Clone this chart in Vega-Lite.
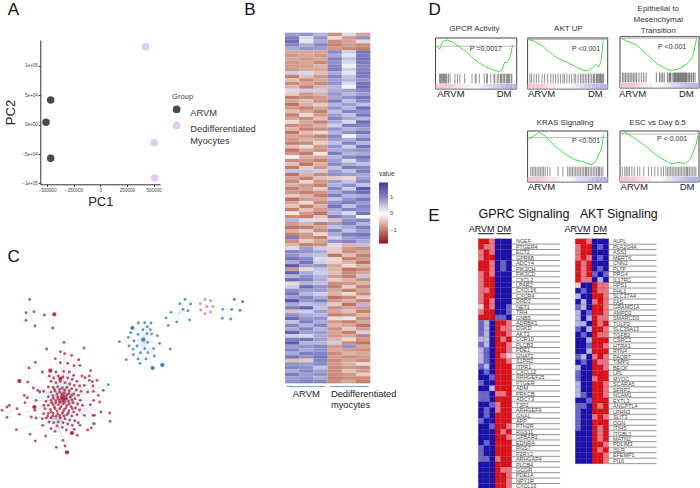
{"$schema":"https://vega.github.io/schema/vega-lite/v6.json","padding":0,"spacing":0,"background":"white","config":{"view":{"stroke":null},"axis":{"domain":false,"ticks":false,"labels":false,"grid":false,"minExtent":0,"maxExtent":0},"font":"Liberation Sans","text":{"font":"Liberation Sans"}},
"datasets":{
"pca":[{"PC1":-465000,"PC2":42000,"Group":"ARVM"},{"PC1":-509000,"PC2":4000,"Group":"ARVM"},{"PC1":-465000,"PC2":-57000,"Group":"ARVM"},{"PC1":425600,"PC2":132600,"Group":"Dedifferentiated Myocytes"},{"PC1":506000,"PC2":-30600,"Group":"Dedifferentiated Myocytes"},{"PC1":510000,"PC2":-90600,"Group":"Dedifferentiated Myocytes"}],
"hubs":[{"h":"a","hx":187,"hy":500,"g":"r"},{"h":"i","hx":165,"hy":560,"g":"r"},{"h":"b","hx":427,"hy":323,"g":"b"},{"h":"c","hx":535,"hy":243,"g":"b"},{"h":"d","hx":617,"hy":222,"g":"p"},{"h":"e","hx":692,"hy":232,"g":"b"},{"h":"f","hx":705,"hy":220,"g":"r"},{"h":"j","hx":85,"hy":245,"g":"r"},{"h":"k","hx":160,"hy":247,"g":"r"},{"h":"m","hx":30,"hy":540,"g":"r"},{"h":"n","hx":187,"hy":500,"g":"b"}],
"big":[{"x":187,"y":500,"g":"r"},{"x":427,"y":323,"g":"b"},{"x":160,"y":247,"g":"r"},{"x":198,"y":661,"g":"r"},{"x":213,"y":603,"g":"r"},{"x":55,"y":447,"g":"r"},{"x":394,"y":288,"g":"b"},{"x":455,"y":408,"g":"b"},{"x":484,"y":399,"g":"b"},{"x":100,"y":525,"g":"r"},{"x":178,"y":440,"g":"r"},{"x":148,"y":416,"g":"r"}],
"net":[{"x":355,"y":329,"h":"b"},{"x":376,"y":383,"h":"b"},{"x":384,"y":342,"h":"b"},{"x":382,"y":316,"h":"b"},{"x":389,"y":302,"h":"b"},{"x":394,"y":288,"h":"b"},{"x":412,"y":273,"h":"b"},{"x":431,"y":272,"h":"b"},{"x":450,"y":273,"h":"b"},{"x":439,"y":284,"h":"b"},{"x":426,"y":293,"h":"b"},{"x":411,"y":307,"h":"b"},{"x":438,"y":305,"h":"b"},{"x":452,"y":306,"h":"b"},{"x":469,"y":311,"h":"b"},{"x":399,"y":327,"h":"b"},{"x":396,"y":352,"h":"b"},{"x":408,"y":342,"h":"b"},{"x":418,"y":362,"h":"b"},{"x":397,"y":368,"h":"b"},{"x":411,"y":381,"h":"b"},{"x":417,"y":394,"h":"b"},{"x":435,"y":381,"h":"b"},{"x":441,"y":362,"h":"b"},{"x":431,"y":350,"h":"b"},{"x":440,"y":331,"h":"b"},{"x":458,"y":350,"h":"b"},{"x":460,"y":372,"h":"b"},{"x":455,"y":408,"h":"b"},{"x":484,"y":399,"h":"b"},{"x":476,"y":334,"h":"b"},{"x":508,"y":351,"h":"b"},{"x":448,"y":293,"h":"b"},
{"x":510,"y":241,"h":"c"},{"x":495,"y":258,"h":"c"},{"x":502,"y":280,"h":"c"},{"x":527,"y":270,"h":"c"},{"x":537,"y":215,"h":"c"},{"x":552,"y":202,"h":"c"},{"x":569,"y":216,"h":"c"},{"x":561,"y":236,"h":"c"},{"x":566,"y":264,"h":"c"},{"x":546,"y":232,"h":"c"},
{"x":598,"y":215,"h":"d"},{"x":612,"y":202,"h":"d"},{"x":629,"y":206,"h":"d"},{"x":636,"y":224,"h":"d"},{"x":629,"y":240,"h":"d"},{"x":612,"y":245,"h":"d"},{"x":599,"y":234,"h":"d"},{"x":617,"y":224,"h":"d"},
{"x":665,"y":232,"h":"e"},{"x":664,"y":259,"h":"e"},{"x":689,"y":261,"h":"e"},{"x":692,"y":232,"h":"e"},{"x":700,"y":202,"h":"f"},{"x":725,"y":209,"h":"f"},{"x":717,"y":235,"h":"f"},
{"x":86,"y":202,"h":"j"},{"x":75,"y":242,"h":"j"},{"x":99,"y":239,"h":"j"},{"x":75,"y":265,"h":"j"},{"x":102,"y":282,"h":"j"},{"x":130,"y":249,"h":"k"},{"x":155,"y":288,"h":"k"},{"x":189,"y":331,"h":"a"},
{"x":137,"y":351,"h":"a"},{"x":178,"y":359,"h":"a"},{"x":249,"y":348,"h":"a"},{"x":191,"y":365,"h":"a"},{"x":163,"y":380,"h":"a"},{"x":212,"y":370,"h":"a"},{"x":103,"y":391,"h":"a"},{"x":178,"y":392,"h":"a"},{"x":200,"y":394,"h":"a"},{"x":233,"y":383,"h":"a"},{"x":219,"y":401,"h":"a"},{"x":237,"y":400,"h":"a"},{"x":84,"y":408,"h":"a"},{"x":148,"y":416,"h":"a"},{"x":124,"y":420,"h":"a"},{"x":165,"y":420,"h":"a"},{"x":188,"y":418,"h":"a"},{"x":205,"y":420,"h":"a"},{"x":218,"y":430,"h":"a"},{"x":269,"y":416,"h":"a"},{"x":265,"y":432,"h":"a"},{"x":243,"y":432,"h":"a"},{"x":252,"y":437,"h":"a"},{"x":55,"y":447,"h":"a"},{"x":97,"y":468,"h":"a"},{"x":80,"y":450,"h":"a"},{"x":288,"y":445,"h":"a"},{"x":274,"y":449,"h":"a"},{"x":265,"y":445,"h":"a"},{"x":276,"y":462,"h":"a"},{"x":250,"y":460,"h":"a"},{"x":110,"y":475,"h":"a"},{"x":116,"y":480,"h":"a"},{"x":128,"y":478,"h":"a"},{"x":260,"y":480,"h":"a"},{"x":292,"y":490,"h":"a"},{"x":277,"y":478,"h":"a"},{"x":307,"y":475,"h":"a"},{"x":70,"y":490,"h":"a"},{"x":79,"y":497,"h":"a"},{"x":100,"y":525,"h":"a"},{"x":72,"y":512,"h":"a"},{"x":105,"y":505,"h":"a"},{"x":128,"y":520,"h":"a"},{"x":102,"y":535,"h":"a"},{"x":296,"y":510,"h":"a"},{"x":278,"y":505,"h":"a"},{"x":268,"y":518,"h":"a"},{"x":55,"y":547,"h":"a"},{"x":326,"y":543,"h":"a"},{"x":327,"y":568,"h":"a"},{"x":300,"y":540,"h":"a"},{"x":280,"y":550,"h":"a"},{"x":250,"y":550,"h":"a"},{"x":105,"y":558,"h":"i"},{"x":91,"y":555,"h":"i"},{"x":124,"y":560,"h":"i"},{"x":125,"y":580,"h":"i"},{"x":46,"y":593,"h":"i"},{"x":87,"y":607,"h":"i"},{"x":103,"y":627,"h":"i"},{"x":134,"y":612,"h":"i"},{"x":150,"y":590,"h":"i"},{"x":166,"y":646,"h":"i"},{"x":192,"y":642,"h":"i"},{"x":198,"y":661,"h":"i"},{"x":186,"y":625,"h":"i"},{"x":212,"y":603,"h":"i"},{"x":229,"y":610,"h":"i"},{"x":220,"y":592,"h":"i"},{"x":260,"y":594,"h":"a"},{"x":271,"y":588,"h":"a"},{"x":237,"y":580,"h":"i"},{"x":280,"y":575,"h":"a"},{"x":276,"y":550,"h":"a"},{"x":18,"y":525,"h":"m"},{"x":3,"y":535,"h":"m"},{"x":25,"y":520,"h":"m"},{"x":18,"y":556,"h":"m"},{"x":48,"y":530,"h":"m"},{"x":322,"y":458,"h":"n"},{"x":277,"y":575,"h":"n"},
{"x":145,"y":432,"h":"a"},{"x":158,"y":438,"h":"a"},{"x":172,"y":432,"h":"a"},{"x":186,"y":435,"h":"a"},{"x":200,"y":438,"h":"a"},{"x":214,"y":442,"h":"a"},{"x":228,"y":448,"h":"a"},{"x":150,"y":448,"h":"a"},{"x":165,"y":452,"h":"a"},{"x":178,"y":448,"h":"a"},{"x":192,"y":452,"h":"a"},{"x":206,"y":456,"h":"a"},{"x":220,"y":460,"h":"a"},{"x":236,"y":462,"h":"a"},{"x":142,"y":465,"h":"a"},{"x":156,"y":466,"h":"a"},{"x":170,"y":464,"h":"a"},{"x":184,"y":468,"h":"a"},{"x":198,"y":466,"h":"a"},{"x":212,"y":470,"h":"a"},{"x":226,"y":474,"h":"a"},{"x":240,"y":478,"h":"a"},{"x":150,"y":480,"h":"a"},{"x":162,"y":478,"h":"a"},{"x":176,"y":480,"h":"a"},{"x":190,"y":482,"h":"a"},{"x":204,"y":484,"h":"a"},{"x":218,"y":486,"h":"a"},{"x":232,"y":490,"h":"a"},{"x":142,"y":494,"h":"a"},{"x":156,"y":492,"h":"a"},{"x":170,"y":494,"h":"a"},{"x":182,"y":492,"h":"a"},{"x":194,"y":494,"h":"a"},{"x":208,"y":496,"h":"a"},{"x":222,"y":500,"h":"a"},{"x":238,"y":505,"h":"a"},{"x":135,"y":508,"h":"a"},{"x":150,"y":505,"h":"a"},{"x":164,"y":506,"h":"a"},{"x":178,"y":504,"h":"a"},{"x":190,"y":506,"h":"a"},{"x":202,"y":508,"h":"a"},{"x":216,"y":512,"h":"a"},{"x":230,"y":516,"h":"a"},{"x":245,"y":520,"h":"a"},{"x":142,"y":520,"h":"a"},{"x":156,"y":518,"h":"a"},{"x":172,"y":518,"h":"a"},{"x":186,"y":516,"h":"a"},{"x":198,"y":520,"h":"a"},{"x":210,"y":524,"h":"a"},{"x":224,"y":528,"h":"a"},{"x":236,"y":534,"h":"a"},{"x":132,"y":530,"h":"i"},{"x":148,"y":532,"h":"i"},{"x":162,"y":530,"h":"i"},{"x":176,"y":530,"h":"i"},{"x":190,"y":532,"h":"i"},{"x":204,"y":536,"h":"i"},{"x":218,"y":540,"h":"i"},{"x":128,"y":545,"h":"i"},{"x":142,"y":544,"h":"i"},{"x":156,"y":544,"h":"i"},{"x":170,"y":546,"h":"i"},{"x":184,"y":544,"h":"i"},{"x":198,"y":548,"h":"i"},{"x":212,"y":552,"h":"i"},{"x":228,"y":548,"h":"i"},{"x":136,"y":558,"h":"i"},{"x":150,"y":558,"h":"i"},{"x":178,"y":558,"h":"i"},{"x":192,"y":560,"h":"i"},{"x":206,"y":564,"h":"i"},{"x":222,"y":566,"h":"i"},{"x":144,"y":570,"h":"i"},{"x":158,"y":572,"h":"i"},{"x":172,"y":570,"h":"i"},{"x":186,"y":572,"h":"i"},{"x":200,"y":576,"h":"i"},{"x":232,"y":572,"h":"i"},{"x":168,"y":582,"h":"i"},{"x":184,"y":586,"h":"i"},{"x":214,"y":580,"h":"i"},{"x":162,"y":598,"h":"i"},{"x":196,"y":594,"h":"i"},
{"x":160,"y":472,"h":"a"},{"x":168,"y":486,"h":"a"},{"x":176,"y":472,"h":"a"},{"x":183,"y":486,"h":"a"},{"x":191,"y":474,"h":"a"},{"x":198,"y":488,"h":"a"},{"x":205,"y":476,"h":"a"},{"x":212,"y":490,"h":"a"},{"x":157,"y":499,"h":"a"},{"x":164,"y":513,"h":"a"},{"x":171,"y":500,"h":"a"},{"x":178,"y":511,"h":"a"},{"x":184,"y":498,"h":"a"},{"x":191,"y":512,"h":"a"},{"x":197,"y":501,"h":"a"},{"x":205,"y":515,"h":"a"},{"x":213,"y":504,"h":"a"},{"x":152,"y":512,"h":"a"},{"x":160,"y":525,"h":"a"},{"x":168,"y":537,"h":"i"},{"x":180,"y":524,"h":"a"},{"x":187,"y":538,"h":"i"},{"x":195,"y":527,"h":"a"},{"x":202,"y":543,"h":"i"},{"x":214,"y":530,"h":"a"},{"x":150,"y":539,"h":"i"},{"x":155,"y":552,"h":"i"},{"x":165,"y":553,"h":"i"},{"x":176,"y":551,"h":"i"},{"x":189,"y":552,"h":"i"},{"x":140,"y":552,"h":"i"},{"x":186,"y":508,"h":"a"},{"x":181,"y":497,"h":"a"},{"x":192,"y":500,"h":"a"},{"x":188,"y":490,"h":"a"},{"x":175,"y":510,"h":"a"}],
"heat":[
{"r":1,"c":1,"v":0.8},{"r":1,"c":2,"v":0.9},{"r":1,"c":3,"v":0.6},{"r":1,"c":4,"v":-0.9},{"r":1,"c":5,"v":0.3},{"r":1,"c":6,"v":-0.7},
{"r":2,"c":1,"v":1.1},{"r":2,"c":2,"v":0.3},{"r":2,"c":3,"v":0.9},{"r":2,"c":4,"v":-0.3},{"r":2,"c":5,"v":-0.8},{"r":2,"c":6,"v":0.9},
{"r":3,"c":1,"v":1.3},{"r":3,"c":2,"v":0.2},{"r":3,"c":3,"v":0.7},{"r":3,"c":4,"v":-0.9},{"r":3,"c":5,"v":-0.7},{"r":3,"c":6,"v":-0.3},
{"r":4,"c":1,"v":1.0},{"r":4,"c":2,"v":0.7},{"r":4,"c":3,"v":1.0},{"r":4,"c":4,"v":-1.0},{"r":4,"c":5,"v":-0.8},{"r":4,"c":6,"v":-0.9},
{"r":5,"c":1,"v":0.7},{"r":5,"c":2,"v":0.9},{"r":5,"c":3,"v":0.8},{"r":5,"c":4,"v":-0.8},{"r":5,"c":5,"v":-0.9},{"r":5,"c":6,"v":-1.0},
{"r":6,"c":1,"v":-0.7},{"r":6,"c":2,"v":-0.7},{"r":6,"c":3,"v":-0.7},{"r":6,"c":4,"v":1.0},{"r":6,"c":5,"v":0.4},{"r":6,"c":6,"v":1.2},
{"r":7,"c":1,"v":-0.8},{"r":7,"c":2,"v":-0.7},{"r":7,"c":3,"v":-0.8},{"r":7,"c":4,"v":0.7},{"r":7,"c":5,"v":0.2},{"r":7,"c":6,"v":1.1},
{"r":8,"c":1,"v":-0.7},{"r":8,"c":2,"v":-0.8},{"r":8,"c":3,"v":-0.7},{"r":8,"c":4,"v":1.1},{"r":8,"c":5,"v":0.5},{"r":8,"c":6,"v":1.2},
{"r":9,"c":1,"v":-0.8},{"r":9,"c":2,"v":-0.7},{"r":9,"c":3,"v":-0.9},{"r":9,"c":4,"v":0.9},{"r":9,"c":5,"v":0.3},{"r":9,"c":6,"v":1.1},
{"r":10,"c":1,"v":-0.8},{"r":10,"c":2,"v":-0.8},{"r":10,"c":3,"v":-0.6},{"r":10,"c":4,"v":1.0},{"r":10,"c":5,"v":0.1},{"r":10,"c":6,"v":1.0},
{"r":11,"c":1,"v":-0.8},{"r":11,"c":2,"v":-0.7},{"r":11,"c":3,"v":-0.7},{"r":11,"c":4,"v":1.1},{"r":11,"c":5,"v":0.4},{"r":11,"c":6,"v":1.0},
{"r":12,"c":1,"v":0.4},{"r":12,"c":2,"v":0.3},{"r":12,"c":3,"v":-0.5},{"r":12,"c":4,"v":0.7},{"r":12,"c":5,"v":0.2},{"r":12,"c":6,"v":1.2},
{"r":13,"c":1,"v":-1.0},{"r":13,"c":2,"v":-0.5},{"r":13,"c":3,"v":-0.8},{"r":13,"c":4,"v":1.0},{"r":13,"c":5,"v":0.5},{"r":13,"c":6,"v":1.1},
{"r":14,"c":1,"v":-0.5},{"r":14,"c":2,"v":-0.9},{"r":14,"c":3,"v":-0.7},{"r":14,"c":4,"v":0.8},{"r":14,"c":5,"v":0.6},{"r":14,"c":6,"v":0.9},
{"r":15,"c":1,"v":-0.9},{"r":15,"c":2,"v":-0.7},{"r":15,"c":3,"v":-0.9},{"r":15,"c":4,"v":0.9},{"r":15,"c":5,"v":0.3},{"r":15,"c":6,"v":1.2},
{"r":16,"c":1,"v":-0.6},{"r":16,"c":2,"v":-1.0},{"r":16,"c":3,"v":-0.6},{"r":16,"c":4,"v":0.6},{"r":16,"c":5,"v":0.1},{"r":16,"c":6,"v":1.3},
{"r":17,"c":1,"v":0.3},{"r":17,"c":2,"v":0.4},{"r":17,"c":3,"v":0.4},{"r":17,"c":4,"v":0.7},{"r":17,"c":5,"v":0.8},{"r":17,"c":6,"v":1.0},
{"r":18,"c":1,"v":-0.4},{"r":18,"c":2,"v":-0.8},{"r":18,"c":3,"v":-0.6},{"r":18,"c":4,"v":0.9},{"r":18,"c":5,"v":0.6},{"r":18,"c":6,"v":0.8},
{"r":19,"c":1,"v":-1.0},{"r":19,"c":2,"v":-0.9},{"r":19,"c":3,"v":-0.8},{"r":19,"c":4,"v":0.7},{"r":19,"c":5,"v":0.9},{"r":19,"c":6,"v":1.2},
{"r":20,"c":1,"v":-0.7},{"r":20,"c":2,"v":-0.5},{"r":20,"c":3,"v":-0.9},{"r":20,"c":4,"v":1.1},{"r":20,"c":5,"v":0.5},{"r":20,"c":6,"v":1.0},
{"r":21,"c":1,"v":-1.1},{"r":21,"c":2,"v":-0.6},{"r":21,"c":3,"v":-0.4},{"r":21,"c":4,"v":0.6},{"r":21,"c":5,"v":0.8},{"r":21,"c":6,"v":0.5},
{"r":22,"c":1,"v":-0.8},{"r":22,"c":2,"v":-1.0},{"r":22,"c":3,"v":-0.7},{"r":22,"c":4,"v":0.9},{"r":22,"c":5,"v":0.6},{"r":22,"c":6,"v":1.3},
{"r":23,"c":1,"v":-0.5},{"r":23,"c":2,"v":-0.7},{"r":23,"c":3,"v":-1.0},{"r":23,"c":4,"v":0.5},{"r":23,"c":5,"v":1.0},{"r":23,"c":6,"v":0.9},
{"r":24,"c":1,"v":-1.0},{"r":24,"c":2,"v":-0.3},{"r":24,"c":3,"v":-0.8},{"r":24,"c":4,"v":0.8},{"r":24,"c":5,"v":0.5},{"r":24,"c":6,"v":1.2},
{"r":25,"c":1,"v":-0.7},{"r":25,"c":2,"v":-0.9},{"r":25,"c":3,"v":-0.5},{"r":25,"c":4,"v":1.0},{"r":25,"c":5,"v":0.7},{"r":25,"c":6,"v":0.6},
{"r":26,"c":1,"v":-0.3},{"r":26,"c":2,"v":-0.7},{"r":26,"c":3,"v":-1.0},{"r":26,"c":4,"v":0.7},{"r":26,"c":5,"v":0.3},{"r":26,"c":6,"v":1.3},
{"r":27,"c":1,"v":-0.9},{"r":27,"c":2,"v":-0.8},{"r":27,"c":3,"v":-0.6},{"r":27,"c":4,"v":0.4},{"r":27,"c":5,"v":1.1},{"r":27,"c":6,"v":1.0},
{"r":28,"c":1,"v":-0.6},{"r":28,"c":2,"v":-1.0},{"r":28,"c":3,"v":-0.9},{"r":28,"c":4,"v":0.9},{"r":28,"c":5,"v":0.6},{"r":28,"c":6,"v":0.8},
{"r":29,"c":1,"v":-1.1},{"r":29,"c":2,"v":-0.5},{"r":29,"c":3,"v":-0.3},{"r":29,"c":4,"v":0.6},{"r":29,"c":5,"v":0.9},{"r":29,"c":6,"v":1.2},
{"r":30,"c":1,"v":-0.7},{"r":30,"c":2,"v":-0.8},{"r":30,"c":3,"v":-1.0},{"r":30,"c":4,"v":1.0},{"r":30,"c":5,"v":0.1},{"r":30,"c":6,"v":0.7},
{"r":31,"c":1,"v":-0.8},{"r":31,"c":2,"v":-0.6},{"r":31,"c":3,"v":-0.7},{"r":31,"c":4,"v":0.8},{"r":31,"c":5,"v":0.7},{"r":31,"c":6,"v":1.1},
{"r":32,"c":1,"v":-1.0},{"r":32,"c":2,"v":-0.9},{"r":32,"c":3,"v":-0.4},{"r":32,"c":4,"v":0.5},{"r":32,"c":5,"v":1.0},{"r":32,"c":6,"v":0.6},
{"r":33,"c":1,"v":-0.5},{"r":33,"c":2,"v":-0.3},{"r":33,"c":3,"v":-0.8},{"r":33,"c":4,"v":0.9},{"r":33,"c":5,"v":0.4},{"r":33,"c":6,"v":1.2},
{"r":34,"c":1,"v":-1.1},{"r":34,"c":2,"v":-0.7},{"r":34,"c":3,"v":-0.9},{"r":34,"c":4,"v":0.7},{"r":34,"c":5,"v":0.8},{"r":34,"c":6,"v":0.9},
{"r":35,"c":1,"v":-0.8},{"r":35,"c":2,"v":-1.0},{"r":35,"c":3,"v":-0.2},{"r":35,"c":4,"v":1.1},{"r":35,"c":5,"v":0.6},{"r":35,"c":6,"v":0.7},
{"r":36,"c":1,"v":0.1},{"r":36,"c":2,"v":-0.6},{"r":36,"c":3,"v":-0.7},{"r":36,"c":4,"v":0.6},{"r":36,"c":5,"v":1.0},{"r":36,"c":6,"v":1.2},
{"r":37,"c":1,"v":-0.9},{"r":37,"c":2,"v":-0.8},{"r":37,"c":3,"v":-1.0},{"r":37,"c":4,"v":0.8},{"r":37,"c":5,"v":0.3},{"r":37,"c":6,"v":0.9},
{"r":38,"c":1,"v":-0.5},{"r":38,"c":2,"v":-1.1},{"r":38,"c":3,"v":-0.6},{"r":38,"c":4,"v":1.0},{"r":38,"c":5,"v":0.7},{"r":38,"c":6,"v":0.5},
{"r":39,"c":1,"v":-1.0},{"r":39,"c":2,"v":-0.4},{"r":39,"c":3,"v":-0.8},{"r":39,"c":4,"v":0.5},{"r":39,"c":5,"v":1.1},{"r":39,"c":6,"v":1.0},
{"r":40,"c":1,"v":0.5},{"r":40,"c":2,"v":0.5},{"r":40,"c":3,"v":0.4},{"r":40,"c":4,"v":0.8},{"r":40,"c":5,"v":0.5},{"r":40,"c":6,"v":1.1},
{"r":41,"c":1,"v":-1.1},{"r":41,"c":2,"v":-0.6},{"r":41,"c":3,"v":-0.9},{"r":41,"c":4,"v":0.9},{"r":41,"c":5,"v":0.8},{"r":41,"c":6,"v":0.7},
{"r":42,"c":1,"v":-0.7},{"r":42,"c":2,"v":-1.0},{"r":42,"c":3,"v":-0.5},{"r":42,"c":4,"v":-0.4},{"r":42,"c":5,"v":-0.3},{"r":42,"c":6,"v":0.8},
{"r":43,"c":1,"v":-0.9},{"r":43,"c":2,"v":-0.3},{"r":43,"c":3,"v":-0.8},{"r":43,"c":4,"v":0.8},{"r":43,"c":5,"v":0.5},{"r":43,"c":6,"v":1.0},
{"r":44,"c":1,"v":-0.6},{"r":44,"c":2,"v":-0.8},{"r":44,"c":3,"v":-1.0},{"r":44,"c":4,"v":0.6},{"r":44,"c":5,"v":0.9},{"r":44,"c":6,"v":0.5},
{"r":45,"c":1,"v":-1.0},{"r":45,"c":2,"v":-0.7},{"r":45,"c":3,"v":-0.4},{"r":45,"c":4,"v":1.0},{"r":45,"c":5,"v":0.4},{"r":45,"c":6,"v":1.5},
{"r":46,"c":1,"v":-0.8},{"r":46,"c":2,"v":-1.0},{"r":46,"c":3,"v":-0.8},{"r":46,"c":4,"v":0.7},{"r":46,"c":5,"v":1.0},{"r":46,"c":6,"v":1.3},
{"r":47,"c":1,"v":-0.4},{"r":47,"c":2,"v":-0.6},{"r":47,"c":3,"v":-1.0},{"r":47,"c":4,"v":1.1},{"r":47,"c":5,"v":0.6},{"r":47,"c":6,"v":0.7},
{"r":48,"c":1,"v":-1.1},{"r":48,"c":2,"v":-0.8},{"r":48,"c":3,"v":-0.7},{"r":48,"c":4,"v":0.5},{"r":48,"c":5,"v":0.9},{"r":48,"c":6,"v":1.2},
{"r":49,"c":1,"v":-0.7},{"r":49,"c":2,"v":-0.3},{"r":49,"c":3,"v":-0.9},{"r":49,"c":4,"v":0.9},{"r":49,"c":5,"v":1.1},{"r":49,"c":6,"v":0.8},
{"r":50,"c":1,"v":-0.5},{"r":50,"c":2,"v":-1.0},{"r":50,"c":3,"v":-0.6},{"r":50,"c":4,"v":1.2},{"r":50,"c":5,"v":0.5},{"r":50,"c":6,"v":1.0},
{"r":51,"c":1,"v":-1.0},{"r":51,"c":2,"v":-0.5},{"r":51,"c":3,"v":-0.8},{"r":51,"c":4,"v":0.7},{"r":51,"c":5,"v":1.0},{"r":51,"c":6,"v":0.9},
{"r":52,"c":1,"v":-0.2},{"r":52,"c":2,"v":-0.8},{"r":52,"c":3,"v":-1.1},{"r":52,"c":4,"v":0.6},{"r":52,"c":5,"v":0.3},{"r":52,"c":6,"v":1.2},
{"r":53,"c":1,"v":-0.9},{"r":53,"c":2,"v":-1.0},{"r":53,"c":3,"v":-0.5},{"r":53,"c":4,"v":1.1},{"r":53,"c":5,"v":0.8},{"r":53,"c":6,"v":0.1},
{"r":54,"c":1,"v":0.6},{"r":54,"c":2,"v":0.3},{"r":54,"c":3,"v":0.3},{"r":54,"c":4,"v":-0.5},{"r":54,"c":5,"v":0.9},{"r":54,"c":6,"v":1.0},
{"r":55,"c":1,"v":-0.8},{"r":55,"c":2,"v":-0.6},{"r":55,"c":3,"v":-1.0},{"r":55,"c":4,"v":0.8},{"r":55,"c":5,"v":1.1},{"r":55,"c":6,"v":0.6},
{"r":56,"c":1,"v":-1.1},{"r":56,"c":2,"v":-1.0},{"r":56,"c":3,"v":-0.7},{"r":56,"c":4,"v":0.5},{"r":56,"c":5,"v":0.7},{"r":56,"c":6,"v":1.1},
{"r":57,"c":1,"v":-0.6},{"r":57,"c":2,"v":-0.4},{"r":57,"c":3,"v":-0.9},{"r":57,"c":4,"v":1.0},{"r":57,"c":5,"v":0.5},{"r":57,"c":6,"v":0.8},
{"r":58,"c":1,"v":-1.0},{"r":58,"c":2,"v":-0.8},{"r":58,"c":3,"v":-0.3},{"r":58,"c":4,"v":0.7},{"r":58,"c":5,"v":1.1},{"r":58,"c":6,"v":1.2},
{"r":59,"c":1,"v":1.1},{"r":59,"c":2,"v":-0.8},{"r":59,"c":3,"v":-1.0},{"r":59,"c":4,"v":0.4},{"r":59,"c":5,"v":0.8},{"r":59,"c":6,"v":0.9},
{"r":60,"c":1,"v":-0.9},{"r":60,"c":2,"v":-0.4},{"r":60,"c":3,"v":-0.7},{"r":60,"c":4,"v":0.9},{"r":60,"c":5,"v":1.0},{"r":60,"c":6,"v":0.7},
{"r":61,"c":1,"v":-0.6},{"r":61,"c":2,"v":-1.0},{"r":61,"c":3,"v":-0.9},{"r":61,"c":4,"v":0.3},{"r":61,"c":5,"v":-0.6},{"r":61,"c":6,"v":0.5},
{"r":62,"c":1,"v":0.3},{"r":62,"c":2,"v":0.8},{"r":62,"c":3,"v":0.4},{"r":62,"c":4,"v":-0.4},{"r":62,"c":5,"v":-0.8},{"r":62,"c":6,"v":-0.9},
{"r":63,"c":1,"v":1.0},{"r":63,"c":2,"v":0.9},{"r":63,"c":3,"v":0.7},{"r":63,"c":4,"v":-0.4},{"r":63,"c":5,"v":-0.9},{"r":63,"c":6,"v":-0.7},
{"r":64,"c":1,"v":0.9},{"r":64,"c":2,"v":0.6},{"r":64,"c":3,"v":0.5},{"r":64,"c":4,"v":-1.1},{"r":64,"c":5,"v":-0.5},{"r":64,"c":6,"v":-1.0},
{"r":65,"c":1,"v":1.2},{"r":65,"c":2,"v":1.0},{"r":65,"c":3,"v":0.3},{"r":65,"c":4,"v":-0.3},{"r":65,"c":5,"v":-1.0},{"r":65,"c":6,"v":-0.8},
{"r":66,"c":1,"v":0.7},{"r":66,"c":2,"v":1.2},{"r":66,"c":3,"v":0.4},{"r":66,"c":4,"v":-0.4},{"r":66,"c":5,"v":-0.6},{"r":66,"c":6,"v":-1.1},
{"r":67,"c":1,"v":1.5},{"r":67,"c":2,"v":0.8},{"r":67,"c":3,"v":0.9},{"r":67,"c":4,"v":-0.7},{"r":67,"c":5,"v":-0.3},{"r":67,"c":6,"v":-0.6},
{"r":68,"c":1,"v":-0.8},{"r":68,"c":2,"v":-0.3},{"r":68,"c":3,"v":0.5},{"r":68,"c":4,"v":-0.6},{"r":68,"c":5,"v":-1.1},{"r":68,"c":6,"v":-0.9},
{"r":69,"c":1,"v":1.4},{"r":69,"c":2,"v":0.7},{"r":69,"c":3,"v":0.4},{"r":69,"c":4,"v":-0.5},{"r":69,"c":5,"v":-0.9},{"r":69,"c":6,"v":-0.7},
{"r":70,"c":1,"v":0.6},{"r":70,"c":2,"v":0.9},{"r":70,"c":3,"v":0.6},{"r":70,"c":4,"v":-0.8},{"r":70,"c":5,"v":-1.0},{"r":70,"c":6,"v":0.5},
{"r":71,"c":1,"v":1.3},{"r":71,"c":2,"v":1.1},{"r":71,"c":3,"v":0.7},{"r":71,"c":4,"v":-0.4},{"r":71,"c":5,"v":-0.6},{"r":71,"c":6,"v":-0.9},
{"r":72,"c":1,"v":-0.3},{"r":72,"c":2,"v":0.6},{"r":72,"c":3,"v":0.5},{"r":72,"c":4,"v":-0.9},{"r":72,"c":5,"v":-0.8},{"r":72,"c":6,"v":-0.6},
{"r":73,"c":1,"v":0.4},{"r":73,"c":2,"v":1.3},{"r":73,"c":3,"v":0.9},{"r":73,"c":4,"v":-1.0},{"r":73,"c":5,"v":-0.4},{"r":73,"c":6,"v":-1.0},
{"r":74,"c":1,"v":0.9},{"r":74,"c":2,"v":0.8},{"r":74,"c":3,"v":0.8},{"r":74,"c":4,"v":-0.7},{"r":74,"c":5,"v":-1.0},{"r":74,"c":6,"v":-0.7},
{"r":75,"c":1,"v":1.2},{"r":75,"c":2,"v":0.6},{"r":75,"c":3,"v":0.4},{"r":75,"c":4,"v":-0.6},{"r":75,"c":5,"v":-0.3},{"r":75,"c":6,"v":-0.9},
{"r":76,"c":1,"v":0.8},{"r":76,"c":2,"v":1.0},{"r":76,"c":3,"v":0.7},{"r":76,"c":4,"v":-1.1},{"r":76,"c":5,"v":-0.9},{"r":76,"c":6,"v":-0.4},
{"r":77,"c":1,"v":1.6},{"r":77,"c":2,"v":0.9},{"r":77,"c":3,"v":1.1},{"r":77,"c":4,"v":-0.8},{"r":77,"c":5,"v":-0.6},{"r":77,"c":6,"v":-1.0},
{"r":78,"c":1,"v":0.7},{"r":78,"c":2,"v":0.5},{"r":78,"c":3,"v":0.6},{"r":78,"c":4,"v":-0.4},{"r":78,"c":5,"v":-1.1},{"r":78,"c":6,"v":0.6},
{"r":79,"c":1,"v":1.1},{"r":79,"c":2,"v":1.4},{"r":79,"c":3,"v":0.5},{"r":79,"c":4,"v":-0.9},{"r":79,"c":5,"v":-0.7},{"r":79,"c":6,"v":-0.8},
{"r":80,"c":1,"v":-0.5},{"r":80,"c":2,"v":0.4},{"r":80,"c":3,"v":0.8},{"r":80,"c":4,"v":-0.7},{"r":80,"c":5,"v":-0.5},{"r":80,"c":6,"v":-1.0},
{"r":81,"c":1,"v":0.9},{"r":81,"c":2,"v":0.7},{"r":81,"c":3,"v":0.6},{"r":81,"c":4,"v":-1.0},{"r":81,"c":5,"v":-0.9},{"r":81,"c":6,"v":-0.6},
{"r":82,"c":1,"v":1.3},{"r":82,"c":2,"v":0.9},{"r":82,"c":3,"v":0.9},{"r":82,"c":4,"v":-0.3},{"r":82,"c":5,"v":0.2},{"r":82,"c":6,"v":-0.9},
{"r":83,"c":1,"v":0.5},{"r":83,"c":2,"v":1.1},{"r":83,"c":3,"v":0.7},{"r":83,"c":4,"v":-0.8},{"r":83,"c":5,"v":-1.0},{"r":83,"c":6,"v":-0.7},
{"r":84,"c":1,"v":1.0},{"r":84,"c":2,"v":0.6},{"r":84,"c":3,"v":1.0},{"r":84,"c":4,"v":-0.6},{"r":84,"c":5,"v":-0.7},{"r":84,"c":6,"v":-1.1},
{"r":85,"c":1,"v":0.7},{"r":85,"c":2,"v":1.0},{"r":85,"c":3,"v":0.6},{"r":85,"c":4,"v":-0.9},{"r":85,"c":5,"v":-0.4},{"r":85,"c":6,"v":-0.8},
{"r":86,"c":1,"v":1.4},{"r":86,"c":2,"v":0.8},{"r":86,"c":3,"v":0.8},{"r":86,"c":4,"v":-0.7},{"r":86,"c":5,"v":-1.0},{"r":86,"c":6,"v":0.4},
{"r":87,"c":1,"v":0.4},{"r":87,"c":2,"v":0.3},{"r":87,"c":3,"v":0.7},{"r":87,"c":4,"v":-0.8},{"r":87,"c":5,"v":-0.7},{"r":87,"c":6,"v":-1.0},
{"r":88,"c":1,"v":1.1},{"r":88,"c":2,"v":1.2},{"r":88,"c":3,"v":0.8},{"r":88,"c":4,"v":-0.6},{"r":88,"c":5,"v":-0.3},{"r":88,"c":6,"v":-0.8},
{"r":89,"c":1,"v":1.5},{"r":89,"c":2,"v":0.6},{"r":89,"c":3,"v":0.6},{"r":89,"c":4,"v":0.4},{"r":89,"c":5,"v":-0.9},{"r":89,"c":6,"v":-1.1},
{"r":90,"c":1,"v":0.8},{"r":90,"c":2,"v":0.9},{"r":90,"c":3,"v":1.0},{"r":90,"c":4,"v":-0.8},{"r":90,"c":5,"v":0.9},{"r":90,"c":6,"v":-0.7},
{"r":91,"c":1,"v":1.0},{"r":91,"c":2,"v":0.7},{"r":91,"c":3,"v":0.9},{"r":91,"c":4,"v":-0.7},{"r":91,"c":5,"v":-0.8},{"r":91,"c":6,"v":-0.9},
{"r":92,"c":1,"v":0.7},{"r":92,"c":2,"v":1.1},{"r":92,"c":3,"v":1.0},{"r":92,"c":4,"v":-0.9},{"r":92,"c":5,"v":-0.6},{"r":92,"c":6,"v":-0.7},
{"r":93,"c":1,"v":1.2},{"r":93,"c":2,"v":0.9},{"r":93,"c":3,"v":1.2},{"r":93,"c":4,"v":-0.8},{"r":93,"c":5,"v":-0.9},{"r":93,"c":6,"v":-0.8},
{"r":94,"c":1,"v":-0.5},{"r":94,"c":2,"v":-0.4},{"r":94,"c":3,"v":1.0},{"r":94,"c":4,"v":-0.9},{"r":94,"c":5,"v":-0.7},{"r":94,"c":6,"v":-0.9},
{"r":95,"c":1,"v":0.9},{"r":95,"c":2,"v":0.8},{"r":95,"c":3,"v":1.0},{"r":95,"c":4,"v":-0.8},{"r":95,"c":5,"v":-0.6},{"r":95,"c":6,"v":-0.3},
{"r":96,"c":1,"v":1.0},{"r":96,"c":2,"v":0.9},{"r":96,"c":3,"v":0.5},{"r":96,"c":4,"v":-0.9},{"r":96,"c":5,"v":-0.8},{"r":96,"c":6,"v":-0.9},
{"r":97,"c":1,"v":0.7},{"r":97,"c":2,"v":1.0},{"r":97,"c":3,"v":0.8},{"r":97,"c":4,"v":-0.9},{"r":97,"c":5,"v":-0.5},{"r":97,"c":6,"v":-0.8},
{"r":98,"c":1,"v":1.1},{"r":98,"c":2,"v":0.8},{"r":98,"c":3,"v":0.9},{"r":98,"c":4,"v":-0.9},{"r":98,"c":5,"v":-0.8},{"r":98,"c":6,"v":-0.4},
{"r":99,"c":1,"v":0.8},{"r":99,"c":2,"v":0.9},{"r":99,"c":3,"v":0.7},{"r":99,"c":4,"v":-1.0},{"r":99,"c":5,"v":-0.9},{"r":99,"c":6,"v":-0.9},
{"r":100,"c":1,"v":0.9},{"r":100,"c":2,"v":1.0},{"r":100,"c":3,"v":1.0},{"r":100,"c":4,"v":-0.9},{"r":100,"c":5,"v":-0.7},{"r":100,"c":6,"v":-1.0}],
"bar":[{"a":0,"b":5,"v":1},{"a":5,"b":10,"v":1},{"a":10,"b":15,"v":1},{"a":15,"b":20,"v":0.95},{"a":20,"b":25,"v":0.75},{"a":25,"b":30,"v":0.55},{"a":30,"b":35,"v":0.45},{"a":35,"b":40,"v":0.3},{"a":40,"b":45,"v":0.1},{"a":45,"b":50,"v":0},{"a":50,"b":55,"v":-0.05},{"a":55,"b":60,"v":-0.25},{"a":60,"b":65,"v":-0.4},{"a":65,"b":70,"v":-0.5},{"a":70,"b":75,"v":-0.6},{"a":75,"b":80,"v":-0.75},{"a":80,"b":85,"v":-0.85},{"a":85,"b":90,"v":-0.95},{"a":90,"b":95,"v":-1},{"a":95,"b":100,"v":-1}],
"gprcGenes":[{"r":1,"g":"NGEF"},{"r":2,"g":"PTGER4"},{"r":3,"g":"ECT2"},{"r":4,"g":"GPR68"},{"r":5,"g":"ADCY4"},{"r":6,"g":"PIK3CH"},{"r":7,"g":"PIK3CD"},{"r":8,"g":"CXCL2"},{"r":9,"g":"LPAR2"},{"r":10,"g":"CXCL16"},{"r":11,"g":"CXCR4"},{"r":12,"g":"DRD3"},{"r":13,"g":"NET1"},{"r":14,"g":"TRH"},{"r":15,"g":"GNB5"},{"r":16,"g":"ADRBK1"},{"r":17,"g":"DGKD"},{"r":18,"g":"AKT3"},{"r":19,"g":"CCR10"},{"r":20,"g":"PLCB3"},{"r":21,"g":"PDE1"},{"r":22,"g":"GNAT2"},{"r":23,"g":"S1PR2"},{"r":24,"g":"ITPR1"},{"r":25,"g":"CXCL12"},{"r":26,"g":"ARHGEF25"},{"r":27,"g":"PTGER"},{"r":28,"g":"ADM"},{"r":29,"g":"PRKCB"},{"r":30,"g":"ADCY3"},{"r":31,"g":"TJP2"},{"r":32,"g":"ARHGEF9"},{"r":33,"g":"GNAL"},{"r":34,"g":"APP"},{"r":35,"g":"PTH2R"},{"r":36,"g":"RGS11"},{"r":37,"g":"GPBAR1"},{"r":38,"g":"EDNRA"},{"r":39,"g":"RGS7"},{"r":40,"g":"P2RY2"},{"r":41,"g":"ARHGAP4"},{"r":42,"g":"PLCB4"},{"r":43,"g":"GCGR"},{"r":44,"g":"PDE1A"},{"r":45,"g":"NPY1R"},{"r":46,"g":"CXCL13"}],
"aktGenes":[{"r":1,"g":"ALPL"},{"r":2,"g":"PLA2G4A"},{"r":3,"g":"ASS1"},{"r":4,"g":"MERTK"},{"r":5,"g":"CNN2"},{"r":6,"g":"PLTP"},{"r":7,"g":"PRG4"},{"r":8,"g":"IL17RC"},{"r":9,"g":"HPS1"},{"r":10,"g":"FHL1"},{"r":11,"g":"SLC37A4"},{"r":12,"g":"FAS"},{"r":13,"g":"GRAMD1A"},{"r":14,"g":"AMPD2"},{"r":15,"g":"SMARCD3"},{"r":16,"g":"TULP3"},{"r":17,"g":"SLC39A13"},{"r":18,"g":"TGFB2"},{"r":19,"g":"CSRC2"},{"r":20,"g":"HTRA1"},{"r":21,"g":"RTN4"},{"r":22,"g":"PAQR7"},{"r":23,"g":"TIMP3"},{"r":24,"g":"BECK"},{"r":25,"g":"LPL"},{"r":26,"g":"MYOC"},{"r":27,"g":"SCARA5"},{"r":28,"g":"SFRP2"},{"r":29,"g":"NCAM1"},{"r":30,"g":"EXTL3"},{"r":31,"g":"ANGPTL4"},{"r":32,"g":"LPHN3"},{"r":33,"g":"SLIT3"},{"r":34,"g":"OGN"},{"r":35,"g":"ITIH5"},{"r":36,"g":"ITGBL1"},{"r":37,"g":"MATN2"},{"r":38,"g":"PDLIM3"},{"r":39,"g":"ISLR"},{"r":40,"g":"EFEMP1"},{"r":41,"g":"PI16"}],
"gprc":[{"r":1,"c":1,"v":3},{"r":1,"c":2,"v":3},{"r":1,"c":3,"v":2},{"r":1,"c":4,"v":-3},{"r":1,"c":5,"v":-3},{"r":1,"c":6,"v":-3},{"r":2,"c":1,"v":3},{"r":2,"c":2,"v":2},{"r":2,"c":3,"v":2},{"r":2,"c":4,"v":-3},{"r":2,"c":5,"v":-3},{"r":2,"c":6,"v":-3},{"r":3,"c":1,"v":2},{"r":3,"c":2,"v":3},{"r":3,"c":3,"v":2},{"r":3,"c":4,"v":-3},{"r":3,"c":5,"v":-3},{"r":3,"c":6,"v":-3},{"r":4,"c":1,"v":2},{"r":4,"c":2,"v":3},{"r":4,"c":3,"v":3},{"r":4,"c":4,"v":-3},{"r":4,"c":5,"v":-3},{"r":4,"c":6,"v":-3},{"r":5,"c":1,"v":3},{"r":5,"c":2,"v":3},{"r":5,"c":3,"v":2},{"r":5,"c":4,"v":-3},{"r":5,"c":5,"v":-2},{"r":5,"c":6,"v":-3},{"r":6,"c":1,"v":3},{"r":6,"c":2,"v":3},{"r":6,"c":3,"v":2},{"r":6,"c":4,"v":-3},{"r":6,"c":5,"v":-2},{"r":6,"c":6,"v":-3},{"r":7,"c":1,"v":2},{"r":7,"c":2,"v":3},{"r":7,"c":3,"v":2},{"r":7,"c":4,"v":-3},{"r":7,"c":5,"v":-3},{"r":7,"c":6,"v":-3},{"r":8,"c":1,"v":2},{"r":8,"c":2,"v":3},{"r":8,"c":3,"v":3},{"r":8,"c":4,"v":-3},{"r":8,"c":5,"v":-3},{"r":8,"c":6,"v":-3},{"r":9,"c":1,"v":2},{"r":9,"c":2,"v":3},{"r":9,"c":3,"v":3},{"r":9,"c":4,"v":-3},{"r":9,"c":5,"v":-3},{"r":9,"c":6,"v":-3},{"r":10,"c":1,"v":2},{"r":10,"c":2,"v":2},{"r":10,"c":3,"v":3},{"r":10,"c":4,"v":-3},{"r":10,"c":5,"v":-3},{"r":10,"c":6,"v":-3},{"r":11,"c":1,"v":2},{"r":11,"c":2,"v":3},{"r":11,"c":3,"v":3},{"r":11,"c":4,"v":-3},{"r":11,"c":5,"v":-3},{"r":11,"c":6,"v":-3},{"r":12,"c":1,"v":2},{"r":12,"c":2,"v":3},{"r":12,"c":3,"v":2},{"r":12,"c":4,"v":-3},{"r":12,"c":5,"v":-3},{"r":12,"c":6,"v":-3},{"r":13,"c":1,"v":1},{"r":13,"c":2,"v":3},{"r":13,"c":3,"v":2},{"r":13,"c":4,"v":-3},{"r":13,"c":5,"v":-3},{"r":13,"c":6,"v":-2},{"r":14,"c":1,"v":2},{"r":14,"c":2,"v":3},{"r":14,"c":3,"v":3},{"r":14,"c":4,"v":-3},{"r":14,"c":5,"v":-3},{"r":14,"c":6,"v":-2},{"r":15,"c":1,"v":3},{"r":15,"c":2,"v":3},{"r":15,"c":3,"v":3},{"r":15,"c":4,"v":-2},{"r":15,"c":5,"v":-2},{"r":15,"c":6,"v":-3},
{"r":16,"c":1,"v":-2},{"r":16,"c":2,"v":-1},{"r":16,"c":3,"v":-3},{"r":16,"c":4,"v":3},{"r":16,"c":5,"v":3},{"r":16,"c":6,"v":2},{"r":17,"c":1,"v":-2},{"r":17,"c":2,"v":-1},{"r":17,"c":3,"v":-3},{"r":17,"c":4,"v":3},{"r":17,"c":5,"v":2},{"r":17,"c":6,"v":2},{"r":18,"c":1,"v":-2},{"r":18,"c":2,"v":-1},{"r":18,"c":3,"v":-3},{"r":18,"c":4,"v":3},{"r":18,"c":5,"v":3},{"r":18,"c":6,"v":2},{"r":19,"c":1,"v":-1},{"r":19,"c":2,"v":-1},{"r":19,"c":3,"v":-3},{"r":19,"c":4,"v":3},{"r":19,"c":5,"v":2},{"r":19,"c":6,"v":3},{"r":20,"c":1,"v":-2},{"r":20,"c":2,"v":-1},{"r":20,"c":3,"v":-3},{"r":20,"c":4,"v":3},{"r":20,"c":5,"v":3},{"r":20,"c":6,"v":2},{"r":21,"c":1,"v":-1},{"r":21,"c":2,"v":-2},{"r":21,"c":3,"v":-3},{"r":21,"c":4,"v":3},{"r":21,"c":5,"v":3},{"r":21,"c":6,"v":2},{"r":22,"c":1,"v":-1},{"r":22,"c":2,"v":-2},{"r":22,"c":3,"v":-3},{"r":22,"c":4,"v":3},{"r":22,"c":5,"v":2},{"r":22,"c":6,"v":1},{"r":23,"c":1,"v":-1},{"r":23,"c":2,"v":-2},{"r":23,"c":3,"v":-3},{"r":23,"c":4,"v":3},{"r":23,"c":5,"v":3},{"r":23,"c":6,"v":2},{"r":24,"c":1,"v":-2},{"r":24,"c":2,"v":-1},{"r":24,"c":3,"v":-3},{"r":24,"c":4,"v":3},{"r":24,"c":5,"v":3},{"r":24,"c":6,"v":3},{"r":25,"c":1,"v":-3},{"r":25,"c":2,"v":-2},{"r":25,"c":3,"v":-3},{"r":25,"c":4,"v":3},{"r":25,"c":5,"v":3},{"r":25,"c":6,"v":3},{"r":26,"c":1,"v":-3},{"r":26,"c":2,"v":-3},{"r":26,"c":3,"v":-2},{"r":26,"c":4,"v":3},{"r":26,"c":5,"v":3},{"r":26,"c":6,"v":3},{"r":27,"c":1,"v":-2},{"r":27,"c":2,"v":-3},{"r":27,"c":3,"v":-3},{"r":27,"c":4,"v":3},{"r":27,"c":5,"v":3},{"r":27,"c":6,"v":3},{"r":28,"c":1,"v":-3},{"r":28,"c":2,"v":-3},{"r":28,"c":3,"v":-1},{"r":28,"c":4,"v":3},{"r":28,"c":5,"v":3},{"r":28,"c":6,"v":3},{"r":29,"c":1,"v":-2},{"r":29,"c":2,"v":-2},{"r":29,"c":3,"v":-3},{"r":29,"c":4,"v":2},{"r":29,"c":5,"v":2},{"r":29,"c":6,"v":3},{"r":30,"c":1,"v":-2},{"r":30,"c":2,"v":-2},{"r":30,"c":3,"v":-3},{"r":30,"c":4,"v":3},{"r":30,"c":5,"v":3},{"r":30,"c":6,"v":3},{"r":31,"c":1,"v":-3},{"r":31,"c":2,"v":-3},{"r":31,"c":3,"v":-2},{"r":31,"c":4,"v":2},{"r":31,"c":5,"v":3},{"r":31,"c":6,"v":3},{"r":32,"c":1,"v":-3},{"r":32,"c":2,"v":-2},{"r":32,"c":3,"v":-3},{"r":32,"c":4,"v":2},{"r":32,"c":5,"v":3},{"r":32,"c":6,"v":3},{"r":33,"c":1,"v":-3},{"r":33,"c":2,"v":-2},{"r":33,"c":3,"v":-3},{"r":33,"c":4,"v":3},{"r":33,"c":5,"v":3},{"r":33,"c":6,"v":3},{"r":34,"c":1,"v":-2},{"r":34,"c":2,"v":-3},{"r":34,"c":3,"v":-3},{"r":34,"c":4,"v":3},{"r":34,"c":5,"v":3},{"r":34,"c":6,"v":3},{"r":35,"c":1,"v":-3},{"r":35,"c":2,"v":-3},{"r":35,"c":3,"v":-2},{"r":35,"c":4,"v":3},{"r":35,"c":5,"v":3},{"r":35,"c":6,"v":2},{"r":36,"c":1,"v":-3},{"r":36,"c":2,"v":-3},{"r":36,"c":3,"v":-3},{"r":36,"c":4,"v":3},{"r":36,"c":5,"v":2},{"r":36,"c":6,"v":3},{"r":37,"c":1,"v":-3},{"r":37,"c":2,"v":-3},{"r":37,"c":3,"v":-3},{"r":37,"c":4,"v":3},{"r":37,"c":5,"v":3},{"r":37,"c":6,"v":2},{"r":38,"c":1,"v":-3},{"r":38,"c":2,"v":-2},{"r":38,"c":3,"v":-3},{"r":38,"c":4,"v":3},{"r":38,"c":5,"v":3},{"r":38,"c":6,"v":3},{"r":39,"c":1,"v":-2},{"r":39,"c":2,"v":-3},{"r":39,"c":3,"v":-3},{"r":39,"c":4,"v":3},{"r":39,"c":5,"v":3},{"r":39,"c":6,"v":3},{"r":40,"c":1,"v":-2},{"r":40,"c":2,"v":-3},{"r":40,"c":3,"v":-3},{"r":40,"c":4,"v":3},{"r":40,"c":5,"v":3},{"r":40,"c":6,"v":3},{"r":41,"c":1,"v":-2},{"r":41,"c":2,"v":-2},{"r":41,"c":3,"v":-3},{"r":41,"c":4,"v":2},{"r":41,"c":5,"v":3},{"r":41,"c":6,"v":3},{"r":42,"c":1,"v":-3},{"r":42,"c":2,"v":-3},{"r":42,"c":3,"v":-3},{"r":42,"c":4,"v":3},{"r":42,"c":5,"v":3},{"r":42,"c":6,"v":3},{"r":43,"c":1,"v":-3},{"r":43,"c":2,"v":-3},{"r":43,"c":3,"v":-3},{"r":43,"c":4,"v":3},{"r":43,"c":5,"v":2},{"r":43,"c":6,"v":2},{"r":44,"c":1,"v":-3},{"r":44,"c":2,"v":-3},{"r":44,"c":3,"v":-3},{"r":44,"c":4,"v":3},{"r":44,"c":5,"v":3},{"r":44,"c":6,"v":2},{"r":45,"c":1,"v":-3},{"r":45,"c":2,"v":-3},{"r":45,"c":3,"v":-3},{"r":45,"c":4,"v":3},{"r":45,"c":5,"v":3},{"r":45,"c":6,"v":2},{"r":46,"c":1,"v":-3},{"r":46,"c":2,"v":-3},{"r":46,"c":3,"v":-3},{"r":46,"c":4,"v":3},{"r":46,"c":5,"v":3},{"r":46,"c":6,"v":2}],
"akt":[{"r":1,"c":1,"v":3},{"r":1,"c":2,"v":3},{"r":1,"c":3,"v":2},{"r":1,"c":4,"v":-3},{"r":1,"c":5,"v":-3},{"r":1,"c":6,"v":-3},{"r":2,"c":1,"v":2},{"r":2,"c":2,"v":3},{"r":2,"c":3,"v":3},{"r":2,"c":4,"v":-3},{"r":2,"c":5,"v":-2},{"r":2,"c":6,"v":-3},{"r":3,"c":1,"v":2},{"r":3,"c":2,"v":3},{"r":3,"c":3,"v":3},{"r":3,"c":4,"v":-3},{"r":3,"c":5,"v":-3},{"r":3,"c":6,"v":-3},{"r":4,"c":1,"v":2},{"r":4,"c":2,"v":3},{"r":4,"c":3,"v":2},{"r":4,"c":4,"v":-3},{"r":4,"c":5,"v":-2},{"r":4,"c":6,"v":-3},{"r":5,"c":1,"v":3},{"r":5,"c":2,"v":2},{"r":5,"c":3,"v":3},{"r":5,"c":4,"v":-3},{"r":5,"c":5,"v":-3},{"r":5,"c":6,"v":-3},{"r":6,"c":1,"v":3},{"r":6,"c":2,"v":2},{"r":6,"c":3,"v":3},{"r":6,"c":4,"v":-3},{"r":6,"c":5,"v":-2},{"r":6,"c":6,"v":-3},{"r":7,"c":1,"v":3},{"r":7,"c":2,"v":2},{"r":7,"c":3,"v":3},{"r":7,"c":4,"v":-2},{"r":7,"c":5,"v":-3},{"r":7,"c":6,"v":-2},{"r":8,"c":1,"v":3},{"r":8,"c":2,"v":2},{"r":8,"c":3,"v":2},{"r":8,"c":4,"v":-3},{"r":8,"c":5,"v":-1},{"r":8,"c":6,"v":-3},
{"r":9,"c":1,"v":1},{"r":9,"c":2,"v":-3},{"r":9,"c":3,"v":-3},{"r":9,"c":4,"v":3},{"r":9,"c":5,"v":2},{"r":9,"c":6,"v":2},{"r":10,"c":1,"v":-3},{"r":10,"c":2,"v":-2},{"r":10,"c":3,"v":-3},{"r":10,"c":4,"v":3},{"r":10,"c":5,"v":2},{"r":10,"c":6,"v":2},{"r":11,"c":1,"v":-1},{"r":11,"c":2,"v":-3},{"r":11,"c":3,"v":-3},{"r":11,"c":4,"v":3},{"r":11,"c":5,"v":3},{"r":11,"c":6,"v":2},{"r":12,"c":1,"v":-3},{"r":12,"c":2,"v":-1},{"r":12,"c":3,"v":-3},{"r":12,"c":4,"v":2},{"r":12,"c":5,"v":3},{"r":12,"c":6,"v":2},{"r":13,"c":1,"v":-2},{"r":13,"c":2,"v":-1},{"r":13,"c":3,"v":-3},{"r":13,"c":4,"v":3},{"r":13,"c":5,"v":3},{"r":13,"c":6,"v":2},{"r":14,"c":1,"v":-1},{"r":14,"c":2,"v":-3},{"r":14,"c":3,"v":-2},{"r":14,"c":4,"v":3},{"r":14,"c":5,"v":3},{"r":14,"c":6,"v":2},{"r":15,"c":1,"v":-1},{"r":15,"c":2,"v":-3},{"r":15,"c":3,"v":-1},{"r":15,"c":4,"v":3},{"r":15,"c":5,"v":2},{"r":15,"c":6,"v":2},{"r":16,"c":1,"v":-1},{"r":16,"c":2,"v":-1},{"r":16,"c":3,"v":-3},{"r":16,"c":4,"v":3},{"r":16,"c":5,"v":2},{"r":16,"c":6,"v":3},{"r":17,"c":1,"v":-2},{"r":17,"c":2,"v":-3},{"r":17,"c":3,"v":-1},{"r":17,"c":4,"v":3},{"r":17,"c":5,"v":3},{"r":17,"c":6,"v":2},{"r":18,"c":1,"v":-3},{"r":18,"c":2,"v":-2},{"r":18,"c":3,"v":-3},{"r":18,"c":4,"v":3},{"r":18,"c":5,"v":2},{"r":18,"c":6,"v":2},{"r":19,"c":1,"v":-3},{"r":19,"c":2,"v":-3},{"r":19,"c":3,"v":-1},{"r":19,"c":4,"v":3},{"r":19,"c":5,"v":3},{"r":19,"c":6,"v":3},{"r":20,"c":1,"v":-3},{"r":20,"c":2,"v":-3},{"r":20,"c":3,"v":-2},{"r":20,"c":4,"v":3},{"r":20,"c":5,"v":3},{"r":20,"c":6,"v":2},{"r":21,"c":1,"v":-3},{"r":21,"c":2,"v":-3},{"r":21,"c":3,"v":-1},{"r":21,"c":4,"v":3},{"r":21,"c":5,"v":3},{"r":21,"c":6,"v":3},{"r":22,"c":1,"v":-2},{"r":22,"c":2,"v":-1},{"r":22,"c":3,"v":-3},{"r":22,"c":4,"v":2},{"r":22,"c":5,"v":3},{"r":22,"c":6,"v":2},{"r":23,"c":1,"v":-3},{"r":23,"c":2,"v":-2},{"r":23,"c":3,"v":-3},{"r":23,"c":4,"v":3},{"r":23,"c":5,"v":2},{"r":23,"c":6,"v":2},{"r":24,"c":1,"v":-1},{"r":24,"c":2,"v":-3},{"r":24,"c":3,"v":-3},{"r":24,"c":4,"v":3},{"r":24,"c":5,"v":3},{"r":24,"c":6,"v":2},{"r":25,"c":1,"v":-2},{"r":25,"c":2,"v":-3},{"r":25,"c":3,"v":-3},{"r":25,"c":4,"v":3},{"r":25,"c":5,"v":3},{"r":25,"c":6,"v":3},{"r":26,"c":1,"v":-2},{"r":26,"c":2,"v":-3},{"r":26,"c":3,"v":-3},{"r":26,"c":4,"v":2},{"r":26,"c":5,"v":3},{"r":26,"c":6,"v":3},{"r":27,"c":1,"v":-1},{"r":27,"c":2,"v":-3},{"r":27,"c":3,"v":-3},{"r":27,"c":4,"v":3},{"r":27,"c":5,"v":3},{"r":27,"c":6,"v":2},{"r":28,"c":1,"v":-1},{"r":28,"c":2,"v":-3},{"r":28,"c":3,"v":-3},{"r":28,"c":4,"v":3},{"r":28,"c":5,"v":3},{"r":28,"c":6,"v":2},{"r":29,"c":1,"v":-1},{"r":29,"c":2,"v":-2},{"r":29,"c":3,"v":-3},{"r":29,"c":4,"v":3},{"r":29,"c":5,"v":3},{"r":29,"c":6,"v":2},{"r":30,"c":1,"v":-3},{"r":30,"c":2,"v":-3},{"r":30,"c":3,"v":-2},{"r":30,"c":4,"v":3},{"r":30,"c":5,"v":3},{"r":30,"c":6,"v":3},{"r":31,"c":1,"v":-2},{"r":31,"c":2,"v":-2},{"r":31,"c":3,"v":-3},{"r":31,"c":4,"v":3},{"r":31,"c":5,"v":2},{"r":31,"c":6,"v":3},{"r":32,"c":1,"v":-2},{"r":32,"c":2,"v":-3},{"r":32,"c":3,"v":-3},{"r":32,"c":4,"v":3},{"r":32,"c":5,"v":3},{"r":32,"c":6,"v":3},{"r":33,"c":1,"v":-2},{"r":33,"c":2,"v":-3},{"r":33,"c":3,"v":-3},{"r":33,"c":4,"v":2},{"r":33,"c":5,"v":3},{"r":33,"c":6,"v":2},{"r":34,"c":1,"v":-2},{"r":34,"c":2,"v":-3},{"r":34,"c":3,"v":-3},{"r":34,"c":4,"v":3},{"r":34,"c":5,"v":3},{"r":34,"c":6,"v":3},{"r":35,"c":1,"v":-2},{"r":35,"c":2,"v":-3},{"r":35,"c":3,"v":-3},{"r":35,"c":4,"v":3},{"r":35,"c":5,"v":2},{"r":35,"c":6,"v":3},{"r":36,"c":1,"v":-3},{"r":36,"c":2,"v":-3},{"r":36,"c":3,"v":-3},{"r":36,"c":4,"v":3},{"r":36,"c":5,"v":2},{"r":36,"c":6,"v":3},{"r":37,"c":1,"v":-3},{"r":37,"c":2,"v":-3},{"r":37,"c":3,"v":-3},{"r":37,"c":4,"v":3},{"r":37,"c":5,"v":2},{"r":37,"c":6,"v":3},{"r":38,"c":1,"v":-3},{"r":38,"c":2,"v":-3},{"r":38,"c":3,"v":-3},{"r":38,"c":4,"v":3},{"r":38,"c":5,"v":3},{"r":38,"c":6,"v":2},{"r":39,"c":1,"v":-3},{"r":39,"c":2,"v":-3},{"r":39,"c":3,"v":-3},{"r":39,"c":4,"v":3},{"r":39,"c":5,"v":2},{"r":39,"c":6,"v":3},{"r":40,"c":1,"v":-3},{"r":40,"c":2,"v":-3},{"r":40,"c":3,"v":-3},{"r":40,"c":4,"v":3},{"r":40,"c":5,"v":3},{"r":40,"c":6,"v":2},{"r":41,"c":1,"v":-3},{"r":41,"c":2,"v":-3},{"r":41,"c":3,"v":-3},{"r":41,"c":4,"v":3},{"r":41,"c":5,"v":3},{"r":41,"c":6,"v":2}]
},
"hconcat":[
{"spacing":0,"vconcat":[
{"width":270,"height":230,"data":{"values":[{}]},"layer":[
{"data":{"name":"pca"},"mark":{"type":"circle","size":56,"opacity":1},"encoding":{
"x":{"field":"PC1","type":"quantitative","scale":{"domain":[-562500,560000],"range":[39.3,159],"zero":false,"nice":false},"axis":{"offset":-47.7,"title":"PC1","titleFontSize":13,"titleFontWeight":"normal","titleColor":"#222","titleX":99.3,"titleY":17,"titleBaseline":"middle","domain":true,"ticks":true,"labels":true,"domainColor":"#333","tickColor":"#333","tickSize":2,"labelFontSize":4.6,"labelColor":"#444","labelPadding":1,"values":[-500000,-250000,0,250000,500000],"format":"d","labelFlush":false,"labelOverlap":false}},
"y":{"field":"PC2","type":"quantitative","scale":{"domain":[-101500,144000],"range":[182.3,38],"zero":false,"nice":false},"axis":{"offset":-39.3,"title":"PC2","titleFontSize":13,"titleFontWeight":"normal","titleColor":"#222","titleX":-30,"titleY":110,"titleBaseline":"middle","domain":true,"ticks":true,"labels":true,"domainColor":"#333","tickColor":"#333","tickSize":2,"labelFontSize":4.6,"labelColor":"#444","labelPadding":1,"values":[-100000,-50000,0,50000,100000],"labelExpr":"replace(format(datum.value,'.0e'),'e+','e+0')","labelOverlap":false}},
"fill":{"field":"Group","type":"nominal","scale":{"domain":["ARVM","Dedifferentiated Myocytes"],"range":["#4a4a4a","#e2caf6"]},"legend":{"orient":"none","legendX":171,"legendY":91,"titleFontSize":7.6,"titleColor":"#444","titleFontWeight":"normal","labelFontSize":9.3,"labelColor":"#333","symbolSize":60,"symbolStrokeWidth":0,"rowPadding":2,"labelBaseline":"top","labelOffset":9,"labelLimit":120,"titlePadding":4,"labelExpr":"datum.label=='ARVM'?'ARVM':['Dedifferentiated','Myocytes']"}}}},
{"mark":{"type":"text","text":"A","fontSize":17,"color":"#111"},"encoding":{"x":{"datum":-813750},"y":{"datum":195000}}},
{"mark":{"type":"text","text":"B","fontSize":17,"color":"#111"},"encoding":{"x":{"datum":1403000},"y":{"datum":195000}}}
]},
{"width":270,"height":258,"layer":[
{"data":{"name":"net"},"transform":[{"lookup":"h","from":{"data":{"name":"hubs"},"key":"h","fields":["hx","hy","g"]}}],"mark":{"type":"rule","color":"#a9cfe4","strokeWidth":0.5,"opacity":0.6},"encoding":{"x":{"field":"x","type":"quantitative","title":null,"scale":{"domain":[0,810],"range":[0,270],"nice":false,"zero":false}},"y":{"field":"y","type":"quantitative","title":null,"scale":{"domain":[0,774],"range":[0,258],"nice":false,"zero":false}},"x2":{"field":"hx"},"y2":{"field":"hy"}}},
{"data":{"name":"net"},"transform":[{"lookup":"h","from":{"data":{"name":"hubs"},"key":"h","fields":["hx","hy","g"]}}],"mark":{"type":"circle","size":8,"opacity":0.8},"encoding":{"x":{"field":"x","type":"quantitative","title":null},"y":{"field":"y","type":"quantitative","title":null},"color":{"field":"g","type":"nominal","scale":{"domain":["r","b","p"],"range":["#b5233f","#3a7ab5","#c77a8f"]},"legend":null}}},
{"data":{"name":"big"},"mark":{"type":"circle","size":18,"opacity":0.9},"encoding":{"x":{"field":"x","type":"quantitative","title":null},"y":{"field":"y","type":"quantitative","title":null},"color":{"field":"g","type":"nominal","legend":null}}},
{"data":{"values":[{}]},"mark":{"type":"text","text":"C","fontSize":17,"color":"#111"},"encoding":{"x":{"datum":38},"y":{"datum":75}}}
]}
]},
{"width":150,"height":488,"data":{"values":[{}]},"layer":[
{"data":{"name":"heat"},"mark":{"type":"rect","width":14.3,"height":3.55},"encoding":{
"x":{"field":"c","type":"quantitative","title":null,"scale":{"domain":[0.5,6.5],"range":[14,99.3],"nice":false,"zero":false}},
"y":{"field":"r","type":"quantitative","title":null,"scale":{"domain":[0.5,100.5],"range":[30.7,381.3],"nice":false,"zero":false}},
"color":{"field":"v","type":"quantitative","scale":{"domain":[-1.85,-1,0,1,1.9],"range":["#8b1a1a","#c4806f","#ffffff","#8585c5","#3b3b9b"],"interpolate":"rgb"},"legend":{"orient":"none","legendX":108,"legendY":169,"title":"value","titleFontSize":6.5,"titleColor":"#333","titleFontWeight":"normal","labelFontSize":6,"labelColor":"#444","gradientLength":61,"gradientThickness":9,"values":[-1,0,1],"tickCount":3}}}},
{"mark":{"type":"rule","color":"#6aa5d8","strokeWidth":1},"encoding":{"x":{"datum":0.62},"x2":{"datum":3.33},"y":{"datum":101.4}}},
{"mark":{"type":"rule","color":"#6aa5d8","strokeWidth":1},"encoding":{"x":{"datum":3.66},"x2":{"datum":6.39},"y":{"datum":101.4}}},
{"mark":{"type":"text","text":"ARVM","fontSize":9.4,"color":"#222"},"encoding":{"x":{"datum":2},"y":{"datum":103.5}}},
{"mark":{"type":"text","text":"Dedifferentiated","fontSize":9.3,"color":"#222","align":"left"},"encoding":{"x":{"datum":3.73},"y":{"datum":103.5}}},
{"mark":{"type":"text","text":"myocytes","fontSize":9.3,"color":"#222","align":"left"},"encoding":{"x":{"datum":3.73},"y":{"datum":106.6}}}
]},
{"spacing":0,"vconcat":[
{"spacing":0,"bounds":"flush","hconcat":[
{"width":101,"height":105,"data":{"values":[{}]},"layer":[
{"mark":{"type":"rect","fill":null,"stroke":"#444","strokeWidth":1},"encoding":{"x":{"datum":0,"scale":{"domain":[0,100],"range":[14.5,95.7]}},"x2":{"datum":100},"y":{"datum":0,"scale":{"domain":[0,100],"range":[87,36]}},"y2":{"datum":100}}},
{"data":{"name":"bar"},"mark":"rect","encoding":{"x":{"field":"a","type":"quantitative","title":null},"x2":{"field":"b"},"y":{"datum":1},"y2":{"datum":10},"color":{"field":"v","type":"quantitative","scale":{"domain":[-1,-0.5,0,0.5,1],"range":["#1a10b0","#9090e0","#ffffff","#f4a8b8","#e0101a"],"interpolate":"rgb"},"legend":null}}},
{"data":{"values":[5,6,7,8,9,10,11,12,13,14,16,18,24,27,30,36,45,49,50,54,60,63,64,68,72,73,76,78,80,81,82,84,85,87,88,89,90,91,93,94]},"mark":{"type":"rule","color":"#555","strokeWidth":0.8,"opacity":0.8},"encoding":{"x":{"field":"data","type":"quantitative","title":null},"y":{"datum":11},"y2":{"datum":30}}},
{"mark":{"type":"rule","color":"#bbb"},"encoding":{"x":{"datum":0},"x2":{"datum":100},"y":{"datum":84}}},
{"data":{"values":[{"rank":1,"es":84},{"rank":5,"es":78},{"rank":9,"es":93.5},{"rank":15,"es":96},{"rank":21,"es":92},{"rank":30,"es":82},{"rank":38,"es":73},{"rank":46,"es":61},{"rank":54,"es":51},{"rank":62,"es":43.5},{"rank":70.5,"es":38},{"rank":77.5,"es":34},{"rank":82,"es":37},{"rank":85,"es":52},{"rank":88,"es":52},{"rank":92,"es":63},{"rank":95,"es":86}]},"mark":{"type":"line","color":"#45e045","strokeWidth":1},"encoding":{"x":{"field":"rank","type":"quantitative","title":null},"y":{"field":"es","type":"quantitative","title":null}}},
{"mark":{"type":"text","text":"GPCR Activity","fontSize":8,"color":"#333"},"encoding":{"x":{"datum":48},"y":{"datum":117.6}}},
{"mark":{"type":"text","text":"P =0.0017","fontSize":7,"color":"#333"},"encoding":{"x":{"datum":62},"y":{"datum":79}}},
{"mark":{"type":"text","text":"ARVM","fontSize":9.5,"color":"#222"},"encoding":{"x":{"datum":19},"y":{"datum":-10}}},
{"mark":{"type":"text","text":"DM","fontSize":9.5,"color":"#222"},"encoding":{"x":{"datum":84.4},"y":{"datum":-10}}},
{"mark":{"type":"text","text":"D","fontSize":17,"color":"#111"},"encoding":{"x":{"datum":-1},"y":{"datum":155}}}
]},
{"width":92,"height":105,"data":{"values":[{}]},"layer":[
{"mark":{"type":"rect","fill":null,"stroke":"#444","strokeWidth":1},"encoding":{"x":{"datum":0,"scale":{"domain":[0,100],"range":[5.6,85.7]}},"x2":{"datum":100},"y":{"datum":0,"scale":{"domain":[0,100],"range":[87,36]}},"y2":{"datum":100}}},
{"data":{"name":"bar"},"mark":"rect","encoding":{"x":{"field":"a","type":"quantitative","title":null},"x2":{"field":"b"},"y":{"datum":1},"y2":{"datum":10},"color":{"field":"v","type":"quantitative","scale":{"domain":[-1,-0.5,0,0.5,1],"range":["#1a10b0","#9090e0","#ffffff","#f4a8b8","#e0101a"],"interpolate":"rgb"},"legend":null}}},
{"data":{"values":[3,5,8,11,14,18,21,25,29,32,35,38,41,44,46,49,52,55,58,60,63,66,68,70,72,74,76,78,80,82,83,84,86,87,88,89,90,91,92,93,94,95]},"mark":{"type":"rule","color":"#555","strokeWidth":0.8,"opacity":0.8},"encoding":{"x":{"field":"data","type":"quantitative","title":null},"y":{"datum":11},"y2":{"datum":30}}},
{"mark":{"type":"rule","color":"#bbb"},"encoding":{"x":{"datum":0},"x2":{"datum":100},"y":{"datum":97}}},
{"data":{"values":[{"rank":1,"es":97},{"rank":8,"es":94},{"rank":17,"es":86},{"rank":27,"es":73},{"rank":37,"es":61},{"rank":50,"es":52},{"rank":62,"es":42},{"rank":73,"es":35},{"rank":79,"es":40},{"rank":85,"es":48},{"rank":89,"es":43},{"rank":92,"es":56},{"rank":94.5,"es":99}]},"mark":{"type":"line","color":"#45e045","strokeWidth":1},"encoding":{"x":{"field":"rank","type":"quantitative","title":null},"y":{"field":"es","type":"quantitative","title":null}}},
{"mark":{"type":"text","text":"AKT UP","fontSize":8,"color":"#333"},"encoding":{"x":{"datum":51},"y":{"datum":117.6}}},
{"mark":{"type":"text","text":"P <0.001","fontSize":7,"color":"#333"},"encoding":{"x":{"datum":73},"y":{"datum":79}}},
{"mark":{"type":"text","text":"ARVM","fontSize":9.5,"color":"#222"},"encoding":{"x":{"datum":17.5},"y":{"datum":-10}}},
{"mark":{"type":"text","text":"DM","fontSize":9.5,"color":"#222"},"encoding":{"x":{"datum":84.6},"y":{"datum":-10}}}
]},
{"width":87,"height":105,"data":{"values":[{}]},"layer":[
{"mark":{"type":"rect","fill":null,"stroke":"#444","strokeWidth":1},"encoding":{"x":{"datum":0,"scale":{"domain":[0,100],"range":[6,85]}},"x2":{"datum":100},"y":{"datum":0,"scale":{"domain":[0,100],"range":[86,34.7]}},"y2":{"datum":100}}},
{"data":{"name":"bar"},"mark":"rect","encoding":{"x":{"field":"a","type":"quantitative","title":null},"x2":{"field":"b"},"y":{"datum":1},"y2":{"datum":10},"color":{"field":"v","type":"quantitative","scale":{"domain":[-1,-0.5,0,0.5,1],"range":["#1a10b0","#9090e0","#ffffff","#f4a8b8","#e0101a"],"interpolate":"rgb"},"legend":null}}},
{"data":{"values":[3,5,7,9,11,13,15,17,19,21,24,27,30,33,46,50,52,54,56,60,62,63,64,66,68,69,70,71,72,73,74,75,76,77,78,79,80,81,82,83,84,85,87,88,90,91,93,95]},"mark":{"type":"rule","color":"#444","strokeWidth":0.8,"opacity":0.85},"encoding":{"x":{"field":"data","type":"quantitative","title":null},"y":{"datum":11},"y2":{"datum":30}}},
{"mark":{"type":"rule","color":"#bbb"},"encoding":{"x":{"datum":0},"x2":{"datum":100},"y":{"datum":97}}},
{"data":{"values":[{"rank":1,"es":97},{"rank":10,"es":91},{"rank":22,"es":83},{"rank":35,"es":64},{"rank":47,"es":47},{"rank":62,"es":34.5},{"rank":73,"es":36},{"rank":85,"es":47},{"rank":92,"es":60},{"rank":97,"es":97}]},"mark":{"type":"line","color":"#45e045","strokeWidth":1},"encoding":{"x":{"field":"rank","type":"quantitative","title":null},"y":{"field":"es","type":"quantitative","title":null}}},
{"mark":{"type":"text","text":"Epithelial to","fontSize":8,"color":"#333"},"encoding":{"x":{"datum":48.4},"y":{"datum":154}}},
{"mark":{"type":"text","text":"Mesenchymal","fontSize":8,"color":"#333"},"encoding":{"x":{"datum":48.4},"y":{"datum":132.6}}},
{"mark":{"type":"text","text":"Transition","fontSize":8,"color":"#333"},"encoding":{"x":{"datum":48.4},"y":{"datum":111}}},
{"mark":{"type":"text","text":"P <0.001","fontSize":7,"color":"#333"},"encoding":{"x":{"datum":66},"y":{"datum":80}}},
{"mark":{"type":"text","text":"ARVM","fontSize":9.5,"color":"#222"},"encoding":{"x":{"datum":16},"y":{"datum":-11.7}}},
{"mark":{"type":"text","text":"DM","fontSize":9.5,"color":"#222"},"encoding":{"x":{"datum":84},"y":{"datum":-11.7}}}
]}
]},
{"spacing":0,"bounds":"flush","hconcat":[
{"width":193,"height":90,"data":{"values":[{}]},"layer":[
{"mark":{"type":"rect","fill":null,"stroke":"#444","strokeWidth":1},"encoding":{"x":{"datum":0,"scale":{"domain":[0,100],"range":[106.6,186.7]}},"x2":{"datum":100},"y":{"datum":0,"scale":{"domain":[0,100],"range":[75,24]}},"y2":{"datum":100}}},
{"data":{"name":"bar"},"mark":"rect","encoding":{"x":{"field":"a","type":"quantitative","title":null},"x2":{"field":"b"},"y":{"datum":1},"y2":{"datum":10},"color":{"field":"v","type":"quantitative","scale":{"domain":[-1,-0.5,0,0.5,1],"range":["#1a10b0","#9090e0","#ffffff","#f4a8b8","#e0101a"],"interpolate":"rgb"},"legend":null}}},
{"data":{"values":[4,6,8,10,12,14,16,18,20,22,25,28,38,44,50,52,54,56,58,60,62,64,66,68,70,72,73,74,76,78,80,82,84,86,88,89,90,92,94]},"mark":{"type":"rule","color":"#555","strokeWidth":0.8,"opacity":0.8},"encoding":{"x":{"field":"data","type":"quantitative","title":null},"y":{"datum":11},"y2":{"datum":30}}},
{"mark":{"type":"rule","color":"#bbb"},"encoding":{"x":{"datum":0},"x2":{"datum":100},"y":{"datum":87}}},
{"data":{"values":[{"rank":1,"es":84},{"rank":8,"es":91},{"rank":14,"es":97},{"rank":21,"es":92},{"rank":33,"es":72},{"rank":46,"es":56},{"rank":58,"es":44},{"rank":71,"es":39},{"rank":79,"es":34},{"rank":85,"es":40},{"rank":92,"es":64},{"rank":95,"es":93}]},"mark":{"type":"line","color":"#45e045","strokeWidth":1},"encoding":{"x":{"field":"rank","type":"quantitative","title":null},"y":{"field":"es","type":"quantitative","title":null}}},
{"mark":{"type":"text","text":"KRAS Signaling","fontSize":8,"color":"#333"},"encoding":{"x":{"datum":46.7},"y":{"datum":115.6}}},
{"mark":{"type":"text","text":"P <0.001","fontSize":7,"color":"#333"},"encoding":{"x":{"datum":73},"y":{"datum":80}}},
{"mark":{"type":"text","text":"ARVM","fontSize":9.5,"color":"#222"},"encoding":{"x":{"datum":17.5},"y":{"datum":-10.4}}},
{"mark":{"type":"text","text":"DM","fontSize":9.5,"color":"#222"},"encoding":{"x":{"datum":83.5},"y":{"datum":-10.4}}}
]},
{"width":87,"height":90,"data":{"values":[{}]},"layer":[
{"mark":{"type":"rect","fill":null,"stroke":"#444","strokeWidth":1},"encoding":{"x":{"datum":0,"scale":{"domain":[0,100],"range":[6,85]}},"x2":{"datum":100},"y":{"datum":0,"scale":{"domain":[0,100],"range":[75,24]}},"y2":{"datum":100}}},
{"data":{"name":"bar"},"mark":"rect","encoding":{"x":{"field":"a","type":"quantitative","title":null},"x2":{"field":"b"},"y":{"datum":1},"y2":{"datum":10},"color":{"field":"v","type":"quantitative","scale":{"domain":[-1,-0.5,0,0.5,1],"range":["#1a10b0","#9090e0","#ffffff","#f4a8b8","#e0101a"],"interpolate":"rgb"},"legend":null}}},
{"data":{"values":[3,6,8,10,12,15,18,22,25,30,36,40,44,48,52,55,58,60,62,64,66,68,70,72,74,76,78,80,82,84,85,86,88,90,92,94,96]},"mark":{"type":"rule","color":"#555","strokeWidth":0.8,"opacity":0.8},"encoding":{"x":{"field":"data","type":"quantitative","title":null},"y":{"datum":11},"y2":{"datum":30}}},
{"mark":{"type":"rule","color":"#bbb"},"encoding":{"x":{"datum":0},"x2":{"datum":100},"y":{"datum":94}}},
{"data":{"values":[{"rank":1,"es":95},{"rank":7.5,"es":97},{"rank":18,"es":86},{"rank":31,"es":72},{"rank":47.5,"es":51},{"rank":64,"es":36},{"rank":75,"es":38},{"rank":83,"es":36},{"rank":89.5,"es":46},{"rank":96,"es":72},{"rank":99,"es":92}]},"mark":{"type":"line","color":"#45e045","strokeWidth":1},"encoding":{"x":{"field":"rank","type":"quantitative","title":null},"y":{"field":"es","type":"quantitative","title":null}}},
{"mark":{"type":"text","text":"ESC vs Day 6.5","fontSize":8,"color":"#333"},"encoding":{"x":{"datum":47.5},"y":{"datum":115.6}}},
{"mark":{"type":"text","text":"P < 0.001","fontSize":7,"color":"#333"},"encoding":{"x":{"datum":66},"y":{"datum":84}}},
{"mark":{"type":"text","text":"ARVM","fontSize":9.5,"color":"#222"},"encoding":{"x":{"datum":18},"y":{"datum":-10.4}}},
{"mark":{"type":"text","text":"DM","fontSize":9.5,"color":"#222"},"encoding":{"x":{"datum":85},"y":{"datum":-10.4}}}
]}
]},
{"spacing":0,"bounds":"flush","hconcat":[
{"width":150,"height":293,"data":{"values":[{}]},"layer":[
{"data":{"name":"gprc"},"mark":{"type":"rect","width":5.6,"height":5.45,"stroke":"#300","strokeWidth":0.3,"strokeOpacity":0.4},"encoding":{"x":{"field":"c","type":"quantitative","title":null,"scale":{"domain":[0.5,6.5],"range":[57.3,90.7],"nice":false,"zero":false}},"y":{"field":"r","type":"quantitative","title":null,"scale":{"domain":[0.5,46.5],"range":[41.7,292],"nice":false,"zero":false}},"color":{"field":"v","type":"quantitative","scale":{"domain":[-3,-2,-1,1,2,3],"range":["#34009e","#3a20d8","#9090f5","#ffb6c8","#f8606e","#d00010"],"interpolate":"rgb"},"legend":null}}},
{"data":{"name":"gprcGenes"},"mark":{"type":"rule","color":"#666","strokeWidth":0.7,"yOffset":2.7},"encoding":{"y":{"field":"r","type":"quantitative","title":null},"x":{"datum":6.5},"x2":{"datum":15.2}}},
{"data":{"name":"gprcGenes"},"mark":{"type":"text","align":"left","fontSize":5.4,"color":"#444"},"encoding":{"y":{"field":"r","type":"quantitative","title":null},"x":{"datum":7.27},"text":{"field":"g"}}},
{"mark":{"type":"text","text":"E","fontSize":17,"color":"#111"},"encoding":{"x":{"datum":-7.45},"y":{"datum":-3.65}}},
{"mark":{"type":"text","text":"GPRC Signaling","fontSize":12.5,"color":"#111"},"encoding":{"x":{"datum":8.7},"y":{"datum":-4.02}}},
{"mark":{"type":"text","text":"ARVM","fontSize":9,"color":"#111"},"encoding":{"x":{"datum":1.1},"y":{"datum":-1.28}}},
{"mark":{"type":"text","text":"DM","fontSize":9,"color":"#111"},"encoding":{"x":{"datum":5.1},"y":{"datum":-1.28}}},
{"mark":{"type":"rule","color":"#111","strokeWidth":1},"encoding":{"x":{"datum":0.45},"x2":{"datum":3.3},"y":{"datum":-0.42}}},
{"mark":{"type":"rule","color":"#111","strokeWidth":1},"encoding":{"x":{"datum":3.8},"x2":{"datum":6.4},"y":{"datum":-0.42}}}
]},
{"width":130,"height":293,"data":{"values":[{}]},"layer":[
{"data":{"name":"akt"},"mark":{"type":"rect","width":5.6,"height":5.5,"stroke":"#300","strokeWidth":0.3,"strokeOpacity":0.4},"encoding":{"x":{"field":"c","type":"quantitative","title":null,"scale":{"domain":[0.5,6.5],"range":[4.3,37.7],"nice":false,"zero":false}},"y":{"field":"r","type":"quantitative","title":null,"scale":{"domain":[0.5,41.5],"range":[41.7,266.7],"nice":false,"zero":false}},"color":{"field":"v","type":"quantitative","scale":{"domain":[-3,-2,-1,1,2,3],"range":["#34009e","#3a20d8","#9090f5","#ffb6c8","#f8606e","#d00010"],"interpolate":"rgb"},"legend":null}}},
{"data":{"name":"aktGenes"},"mark":{"type":"rule","color":"#666","strokeWidth":0.7,"yOffset":2.7},"encoding":{"y":{"field":"r","type":"quantitative","title":null},"x":{"datum":6.5},"x2":{"datum":15.1}}},
{"data":{"name":"aktGenes"},"mark":{"type":"text","align":"left","fontSize":5.4,"color":"#444"},"encoding":{"y":{"field":"r","type":"quantitative","title":null},"x":{"datum":7.27},"text":{"field":"g"}}},
{"mark":{"type":"text","text":"AKT Signaling","fontSize":12.3,"color":"#111"},"encoding":{"x":{"datum":8.3},"y":{"datum":-4.05}}},
{"mark":{"type":"text","text":"ARVM","fontSize":9,"color":"#111"},"encoding":{"x":{"datum":0.9},"y":{"datum":-1.25}}},
{"mark":{"type":"text","text":"DM","fontSize":9,"color":"#111"},"encoding":{"x":{"datum":4.93},"y":{"datum":-1.25}}},
{"mark":{"type":"rule","color":"#111","strokeWidth":1},"encoding":{"x":{"datum":0.5},"x2":{"datum":3.1},"y":{"datum":-0.42}}},
{"mark":{"type":"rule","color":"#111","strokeWidth":1},"encoding":{"x":{"datum":3.7},"x2":{"datum":6.2},"y":{"datum":-0.42}}}
]}
]}
]}
]}
